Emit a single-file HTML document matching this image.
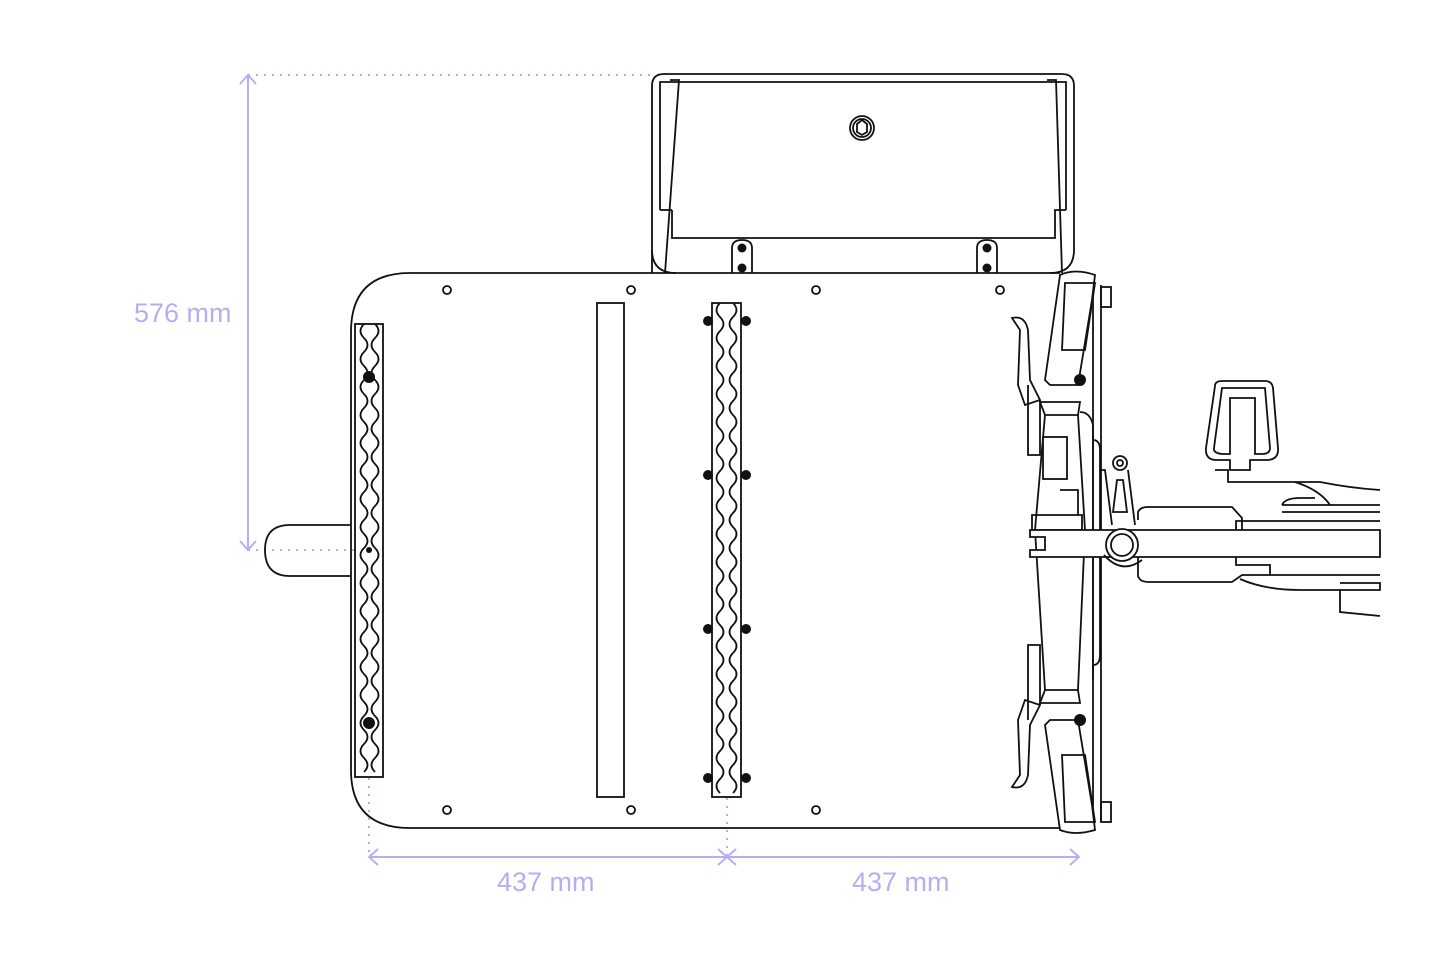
<!DOCTYPE html>
<html><head><meta charset="utf-8"><style>
html,body{margin:0;padding:0;background:#fff;}
svg{display:block}
text{font-family:"Liberation Sans",sans-serif;fill:#b3b0f2;font-size:27px}
</style></head><body>
<svg width="1445" height="963" viewBox="0 0 1445 963" xmlns="http://www.w3.org/2000/svg">
<g fill="none" stroke="#b3b0f2" stroke-width="2">
 <line x1="248" y1="75" x2="655" y2="75" stroke-dasharray="2 6"/>
 <line x1="248" y1="550" x2="360" y2="550" stroke-dasharray="2 6"/>
 <line x1="248" y1="75" x2="248" y2="550"/>
 <polyline points="240,84 248,75 256,84"/><polyline points="240,541 248,550 256,541"/>
 <line x1="369" y1="778" x2="369" y2="857" stroke-dasharray="2 6"/>
 <line x1="727" y1="798" x2="727" y2="857" stroke-dasharray="2 6"/>
 <line x1="369" y1="857" x2="1079" y2="857"/>
 <polyline points="378,849 369,857 378,865"/><polyline points="718,849 727,857 718,865"/>
 <polyline points="736,849 727,857 736,865"/><polyline points="1070,849 1079,857 1070,865"/>
</g>
<text x="134" y="322">576 mm</text>
<text x="497" y="891">437 mm</text>
<text x="852" y="891">437 mm</text>

<g fill="none" stroke="#111" stroke-width="1.8">
 <path d="M652,273 V86 Q652,74 664,74 H1062 Q1074,74 1074,86 V250 Q1074,273 1050,273"/>
 <path d="M652,250 Q652,273 676,273"/>
 <path d="M660,210 V82 H1066 V210"/>
 <path d="M672,210 V238 H1055 V210 H1066"/><line x1="660" y1="210" x2="672" y2="210"/>
 <path d="M670,80 L679,80 L665,273"/><path d="M1047,80 L1056,80 L1062,273"/>
 <circle cx="862" cy="128" r="12"/><circle cx="862" cy="128" r="9"/>
 <path d="M857,124 L862,120 867,124 867,132 862,135 857,132Z"/>
 <path d="M732,273 V248 Q732,240 742,240 Q752,240 752,248 V273"/>
 <path d="M977,273 V248 Q977,240 987,240 Q997,240 997,248 V273"/>
 <path d="M351,525 H290 Q265,525 265,550 Q265,576 290,576 H351"/>
 <path d="M1060,273 H410 Q351,273 351,332 V770 Q351,828 410,828 H1065"/>
 <line x1="1093" y1="280" x2="1093" y2="828"/><line x1="1101" y1="285" x2="1101" y2="822"/>
 <rect x="1101" y="287" width="10" height="20"/><rect x="1101" y="802" width="10" height="20"/>
 <circle cx="447" cy="290" r="4"/><circle cx="631" cy="290" r="4"/><circle cx="816" cy="290" r="4"/><circle cx="1000" cy="290" r="4"/>
 <circle cx="447" cy="810" r="4"/><circle cx="631" cy="810" r="4"/><circle cx="816" cy="810" r="4"/>
 <rect x="597" y="303" width="27" height="494"/>
 <rect x="355" y="324" width="28" height="453"/>
 <path d="M364,324 q-7 7 0 14 t0 14 t0 14 t0 14 t0 14 t0 14 t0 14 t0 14 t0 14 t0 14 t0 14 t0 14 t0 14 t0 14 t0 14 t0 14 t0 14 t0 14 t0 14 t0 14 t0 14 t0 14 t0 14 t0 14 t0 14 t0 14 t0 14 t0 14 t0 14 t0 14 t0 14 t0 14"/>
 <path d="M375,324 q7 7 0 14 t0 14 t0 14 t0 14 t0 14 t0 14 t0 14 t0 14 t0 14 t0 14 t0 14 t0 14 t0 14 t0 14 t0 14 t0 14 t0 14 t0 14 t0 14 t0 14 t0 14 t0 14 t0 14 t0 14 t0 14 t0 14 t0 14 t0 14 t0 14 t0 14 t0 14 t0 14"/>
 <rect x="712" y="303" width="29" height="494"/>
 <path d="M720,303 q-7 7 0 14 t0 14 t0 14 t0 14 t0 14 t0 14 t0 14 t0 14 t0 14 t0 14 t0 14 t0 14 t0 14 t0 14 t0 14 t0 14 t0 14 t0 14 t0 14 t0 14 t0 14 t0 14 t0 14 t0 14 t0 14 t0 14 t0 14 t0 14 t0 14 t0 14 t0 14 t0 14 t0 14 t0 14 t0 14"/>
 <path d="M733,303 q7 7 0 14 t0 14 t0 14 t0 14 t0 14 t0 14 t0 14 t0 14 t0 14 t0 14 t0 14 t0 14 t0 14 t0 14 t0 14 t0 14 t0 14 t0 14 t0 14 t0 14 t0 14 t0 14 t0 14 t0 14 t0 14 t0 14 t0 14 t0 14 t0 14 t0 14 t0 14 t0 14 t0 14 t0 14 t0 14"/>
 <path d="M1060,275 Q1075,268 1095,275 L1092,300 L1078,385 L1050,385 L1045,380 Z" fill="#fff"/>
 <path d="M1065,283 L1095,283 L1085,350 L1062,350 Z"/>
 <path d="M1060,830 Q1075,836 1095,830 L1092,805 L1078,720 L1050,720 L1045,725 Z" fill="#fff"/>
 <path d="M1065,822 L1095,822 L1085,755 L1062,755 Z"/>
 <path d="M1012,318 Q1025,315 1028,330 L1030,380 L1040,400 L1025,405 L1018,385 L1020,330 Z"/>
 <path d="M1012,787 Q1025,790 1028,775 L1030,725 L1040,705 L1025,700 L1018,720 L1020,775 Z"/>
 <path d="M1028,385 V455 H1040 V400"/><path d="M1028,720 V645 H1040 V705"/>
 <path d="M1040,402 H1080 L1078,415 H1045 Z"/><path d="M1040,703 H1080 L1078,690 H1045 Z"/>
 <path d="M1045,415 L1035,530 L1045,690"/><path d="M1078,415 L1085,530 L1078,690"/>
 <rect x="1043" y="437" width="24" height="42"/>
 <path d="M1080,412 Q1090,412 1093,425 V680"/>
 <path d="M1093,440 Q1100,440 1100,450 V655 Q1100,665 1093,665"/>
 <path d="M1032,515 H1082 V530 H1032 Z"/><path d="M1060,490 H1078 V515"/>
 <path d="M1030,530 H1380 V557 H1030 V550 H1045 V537 H1030 Z" fill="#fff"/>
 <circle cx="1122" cy="545" r="16" fill="#fff"/><circle cx="1122" cy="545" r="11"/>
 <path d="M1104,555 Q1122,575 1142,560"/>
 <path d="M1100,470 H1105 L1112,525 M1128,470 L1135,525"/>
 <circle cx="1120" cy="463" r="7"/><circle cx="1120" cy="463" r="3"/>
 <path d="M1117,480 L1123,480 L1127,512 L1113,512 Z"/>
 <path d="M1138,520 V512 Q1140,507 1148,507 H1232 L1242,518 V530"/>
 <path d="M1138,557 V576 Q1140,582 1148,582 H1232 L1242,575 H1380"/>
 <path d="M1236,530 V521 H1380"/><path d="M1236,557 V565 H1270 V575"/>
 <path d="M1282,505 H1380 M1282,512 H1380 M1282,505 Q1285,498 1300,498 H1315"/>
 <path d="M1215,470 H1228 V482 H1320 Q1350,488 1380,490"/>
 <path d="M1295,482 Q1320,490 1330,505"/>
 <path d="M1340,583 H1380 V590 H1340 V612 L1380,616"/>
 <path d="M1240,579 Q1265,590 1300,590 H1340"/>
 <path d="M1215,386 Q1215,381 1222,381 H1265 Q1272,381 1273,388 L1278,448 Q1279,459 1268,460 H1250 V470 H1230 V460 H1215 Q1205,459 1206,448 Z"/>
 <path d="M1222,388 H1265 L1270,448 Q1270,454 1262,454 H1255 V398 H1230 V454 H1222 Q1213,453 1214,448 Z"/>
</g>
<g fill="#111">
 <circle cx="369" cy="377" r="6"/><circle cx="369" cy="723" r="6"/><circle cx="369" cy="550" r="3"/>
 <circle cx="708" cy="321" r="5"/><circle cx="746" cy="321" r="5"/>
 <circle cx="708" cy="475" r="5"/><circle cx="746" cy="475" r="5"/>
 <circle cx="708" cy="629" r="5"/><circle cx="746" cy="629" r="5"/>
 <circle cx="708" cy="778" r="5"/><circle cx="746" cy="778" r="5"/>
 <circle cx="742" cy="248" r="4.5"/><circle cx="742" cy="268" r="4.5"/>
 <circle cx="987" cy="248" r="4.5"/><circle cx="987" cy="268" r="4.5"/>
 <circle cx="1080" cy="380" r="6"/><circle cx="1080" cy="720" r="6"/>
</g>
</svg>
</body></html>
